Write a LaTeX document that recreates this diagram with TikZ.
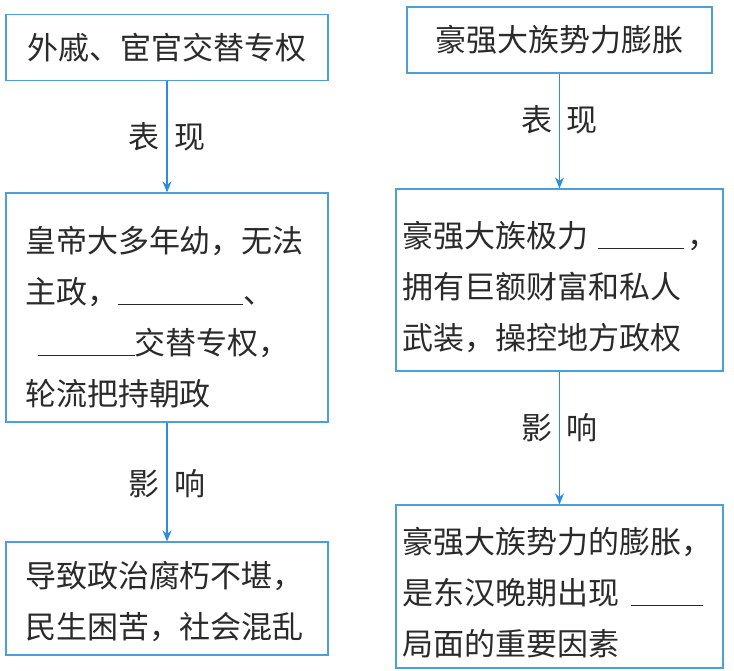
\documentclass[tikz,border=0pt]{standalone}
\usepackage{fontspec}
\setmainfont{Noto Sans CJK SC}
\usepackage{tikz}
\usetikzlibrary{positioning,arrows.meta}
\definecolor{azulCeleste}{HTML}{4A9FDC}
\definecolor{azulFlecha}{HTML}{2B8CE0}
\definecolor{grisTexto}{HTML}{2A2A2A}
\colorlet{colCaja}{azulCeleste}
\colorlet{colFlecha}{azulFlecha}
\newcommand{\hueco}[1]{\rule[-1.5pt]{#1}{1.1pt}}

\begin{document}
\begin{tikzpicture}[
        x=1pt, y=-1pt,
        caja/.style={rectangle, draw=colCaja, line width=1.2pt, text=grisTexto, inner sep=0pt, font=\fontsize{31}{51}\selectfont},
        cajaTitulo/.style={caja, minimum height=66pt},
        cajaTexto/.style={caja, align=left, execute at begin node={\rule{0pt}{#1}}},
        cajaTexto/.default=41pt,
        flecha/.style={-{Stealth[length=11pt, width=9pt]}, line width=1.2pt, draw=colFlecha},
        etiqueta/.style={text=grisTexto, inner sep=0pt, font=\fontsize{31}{31}\selectfont}
    ]
        \useasboundingbox (0,0) rectangle (734,670);

        % Columna izquierda
        \node[cajaTitulo, minimum width=322pt] (izqCausa) at (167, 47.5) {外戚、宦官交替专权};
        \node[cajaTexto=45pt, minimum width=322pt, minimum height=229pt, text width=284pt] (izqBiaoxian) at (167, 307.5)
            {皇帝大多年幼，无法\\主政，\hueco{125pt}、\\\hspace*{13pt}\hueco{97pt}交替专权，\\轮流把持朝政};
        \node[cajaTexto=33pt, minimum width=322pt, minimum height=113pt, text width=284pt] (izqYingxiang) at (167, 598.5)
            {导致政治腐朽不堪，\\民生困苦，社会混乱};

        % Columna derecha
        \node[cajaTitulo, minimum width=305pt] (derCausa) at (559.5, 40) {豪强大族势力膨胀};
        \node[cajaTexto, minimum width=327pt, minimum height=182pt, text width=315pt] (derBiaoxian) at (559.5, 280)
            {\mbox{豪强大族极力\hspace{10pt}\hueco{86pt}\hspace{3pt}，}\\拥有巨额财富和私人\\武装，操控地方政权};
        \node[cajaTexto=39pt, minimum width=327pt, minimum height=163pt, text width=315pt] (derYingxiang) at (559.5, 586.5)
            {豪强大族势力的膨胀，\\\mbox{是东汉晚期出现\hspace{12pt}\hueco{72pt}}\\局面的重要因素};

        % Flechas
        \draw[flecha] (izqCausa) -- (izqBiaoxian) node[etiqueta, pos=0.5] {表\hspace{15pt}现};
        \draw[flecha] (izqBiaoxian) -- (izqYingxiang) node[etiqueta, pos=0.51] {影\hspace{15pt}响};
        \draw[flecha] (derCausa) -- (derBiaoxian) node[etiqueta, pos=0.4] {表\hspace{15pt}现};
        \draw[flecha] (derBiaoxian) -- (derYingxiang) node[etiqueta, pos=0.42] {影\hspace{15pt}响};
    \end{tikzpicture}
\end{document}
